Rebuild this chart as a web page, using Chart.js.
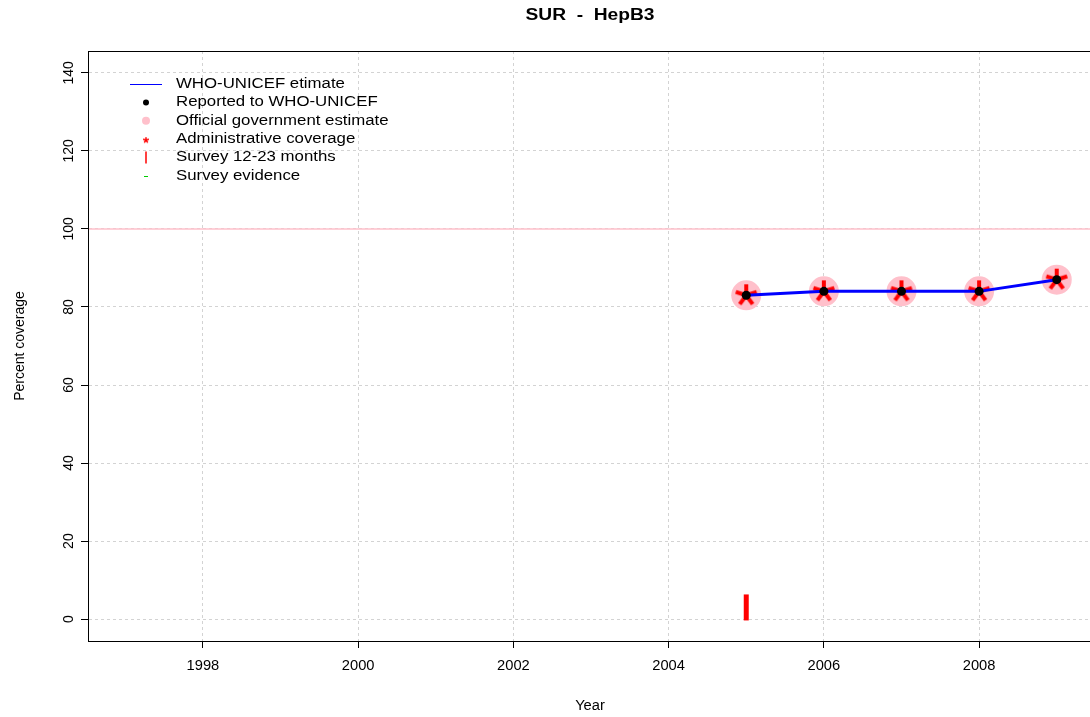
<!DOCTYPE html>
<html>
<head>
<meta charset="utf-8">
<title>SUR - HepB3</title>
<script src="https://cdn.jsdelivr.net/npm/chart.js@4/dist/chart.umd.min.js"></script>
<style>
  html, body { margin: 0; padding: 0; background: #fff; overflow: hidden; }
  #wrap { width: 1090px; height: 717px; overflow: hidden; }
</style>
</head>
<body>
<div id="wrap"><canvas id="chart" width="1112" height="717"></canvas></div>
<script>
// data
var years = [2005, 2006, 2007, 2008, 2009];
var whoEstimate = [83, 84, 84, 84, 87];
var reported = [83, 84, 84, 84, 87];
var officialEstimate = [83, 84, 84, 84, 87];
var adminCoverage = [83, 84, 84, 84, 87];
var surveyYears = [2005];
var survey1223 = [3];
var refLevel = 100;

var xTicks = [1998, 2000, 2002, 2004, 2006, 2008];
var yTicks = [0, 20, 40, 60, 80, 100, 120, 140];
var xRange = [1996.52, 2009.48];
var yRange = [-5.6, 145.6];

var legendLabels = ["WHO-UNICEF etimate", "Reported to WHO-UNICEF", "Official government estimate",
                    "Administrative coverage", "Survey 12-23 months", "Survey evidence"];

var FONT = '"Liberation Sans", Arial, Helvetica, sans-serif';
var SX = 1.2; // text in the original is a bit wider than plain Arial

function pts(xs, ys) {
    var out = [];
    for (var i = 0; i < xs.length; i++) out.push({x: xs[i], y: ys[i]});
    return out;
}

// red "*" marker like R's pch="*"
function makeAsterisk(size, lw) {
    var c = document.createElement('canvas');
    c.width = size; c.height = size;
    var g = c.getContext('2d');
    g.strokeStyle = '#ff0000';
    g.lineWidth = lw;
    var cx = size / 2, cy = size / 2, r = size / 2 - 1;
    for (var k = 0; k < 5; k++) {
        var a = -Math.PI / 2 + k * 2 * Math.PI / 5;
        g.beginPath();
        g.moveTo(cx, cy);
        g.lineTo(cx + r * Math.cos(a), cy + r * Math.sin(a));
        g.stroke();
    }
    return c;
}
var bigStar = makeAsterisk(24, 4);
var smallStar = makeAsterisk(8, 1.5);

function txt(ctx, s, x, y, font, align, angle, sx) {
    ctx.save();
    ctx.translate(x, y);
    ctx.scale(sx || SX, 1);
    if (angle) ctx.rotate(angle);
    ctx.font = font;
    ctx.textAlign = align || 'center';
    ctx.textBaseline = 'middle';
    ctx.fillStyle = '#000';
    ctx.fillText(s, 0, 0);
    ctx.restore();
}

var decor = {
    id: 'decor',
    afterDraw: function(chart) {
        var ctx = chart.ctx, a = chart.chartArea;
        var xs = chart.scales.x, ys = chart.scales.y;
        // box
        ctx.save();
        ctx.strokeStyle = '#000';
        ctx.lineWidth = 1;
        ctx.strokeRect(a.left + 0.5, a.top + 0.5, a.right - a.left, a.bottom - a.top);
        ctx.restore();

        // tick labels
        xs.ticks.forEach(function(t) {
            txt(ctx, String(t.value), xs.getPixelForValue(t.value), a.bottom + 25, '14px ' + FONT, 'center', 0, 1.05);
        });
        ys.ticks.forEach(function(t) {
            txt(ctx, String(t.value), a.left - 19, ys.getPixelForValue(t.value), '14px ' + FONT, 'center', -Math.PI / 2, 1.05);
        });

        // titles
        txt(ctx, 'SUR  -  HepB3', (a.left + 1092) / 2, 16, 'bold 16px ' + FONT);
        txt(ctx, 'Year', (a.left + 1092) / 2, 706, '14px ' + FONT, 'center', 0, 1.05);
        txt(ctx, 'Percent coverage', 20, (a.top + a.bottom) / 2, '14px ' + FONT, 'center', -Math.PI / 2, 1.05);

        // legend
        var lx = 146, tx = 176, ly = 84, dy = 18.4;
        ctx.save();
        ctx.strokeStyle = '#0000ff'; ctx.lineWidth = 1;
        ctx.beginPath(); ctx.moveTo(130, ly + 0.5); ctx.lineTo(162, ly + 0.5); ctx.stroke();
        ctx.fillStyle = '#000';
        ctx.beginPath(); ctx.arc(lx, ly + dy, 3, 0, Math.PI * 2); ctx.fill();
        ctx.fillStyle = '#ffc0cb';
        ctx.beginPath(); ctx.arc(lx, ly + 2 * dy, 4, 0, Math.PI * 2); ctx.fill();
        ctx.drawImage(smallStar, lx - 4, ly + 3 * dy - 3);
        ctx.strokeStyle = '#ff0000'; ctx.lineWidth = 1.5;
        ctx.beginPath(); ctx.moveTo(lx, ly + 4 * dy - 6); ctx.lineTo(lx, ly + 4 * dy + 6); ctx.stroke();
        ctx.strokeStyle = '#00cc00'; ctx.lineWidth = 1;
        ctx.beginPath(); ctx.moveTo(lx - 2, ly + 5 * dy + 0.5); ctx.lineTo(lx + 2, ly + 5 * dy + 0.5); ctx.stroke();
        ctx.restore();
        legendLabels.forEach(function(s, i) {
            txt(ctx, s, tx, ly + i * dy, '14px ' + FONT, 'left');
        });
    }
};

var gridOpts = {
    color: '#d3d3d3',
    lineWidth: 1,
    drawTicks: true,
    tickLength: 7,
    tickColor: '#000',
    tickWidth: 1,
    tickBorderDash: []
};
var borderOpts = { display: true, color: '#000', width: 1, dash: [3, 3] };

new Chart(document.getElementById('chart'), {
    type: 'scatter',
    data: {
        datasets: [
            {
                label: 'Reported to WHO-UNICEF',
                data: pts(years, reported),
                pointRadius: 4.5,
                pointBackgroundColor: '#000',
                pointBorderWidth: 0,
                showLine: false,
                order: 1
            },
            {
                label: 'WHO-UNICEF etimate',
                data: pts(years, whoEstimate),
                showLine: true,
                borderColor: '#0000ff',
                borderWidth: 3,
                pointRadius: 0,
                order: 2
            },
            {
                label: 'Administrative coverage',
                data: pts(years, adminCoverage),
                pointStyle: bigStar,
                showLine: false,
                order: 3
            },
            {
                label: 'Survey 12-23 months',
                data: pts(surveyYears, survey1223),
                pointStyle: 'line',
                rotation: 90,
                pointRadius: 13,
                borderColor: '#ff0000',
                pointBorderColor: '#ff0000',
                pointBorderWidth: 5,
                showLine: false,
                order: 3
            },
            {
                label: 'Official government estimate',
                data: pts(years, officialEstimate),
                pointRadius: 15,
                pointBackgroundColor: '#ffc0cb',
                pointBorderWidth: 0,
                showLine: false,
                order: 4
            },
            {
                label: 'ref',
                data: pts(xRange, [refLevel, refLevel]),
                showLine: true,
                borderColor: '#ffc0cb',
                borderWidth: 1.5,
                pointRadius: 0,
                order: 6
            }
        ]
    },
    options: {
        responsive: false,
        animation: false,
        events: [],
        layout: { padding: { top: 51, right: 6, left: 0, bottom: 0 } },
        plugins: { legend: { display: false }, tooltip: { enabled: false }, title: { display: false } },
        scales: {
            x: {
                type: 'linear',
                min: xRange[0],
                max: xRange[1],
                afterBuildTicks: function(s) { s.ticks = xTicks.map(function(v) { return {value: v}; }); },
                afterFit: function(s) { s.height = 76; },
                ticks: { display: false },
                grid: gridOpts,
                border: borderOpts
            },
            y: {
                type: 'linear',
                min: yRange[0],
                max: yRange[1],
                afterBuildTicks: function(s) { s.ticks = yTicks.map(function(v) { return {value: v}; }); },
                afterFit: function(s) { s.width = 88; },
                ticks: { display: false },
                grid: gridOpts,
                border: borderOpts
            }
        }
    },
    plugins: [decor]
});
</script>
</body>
</html>
